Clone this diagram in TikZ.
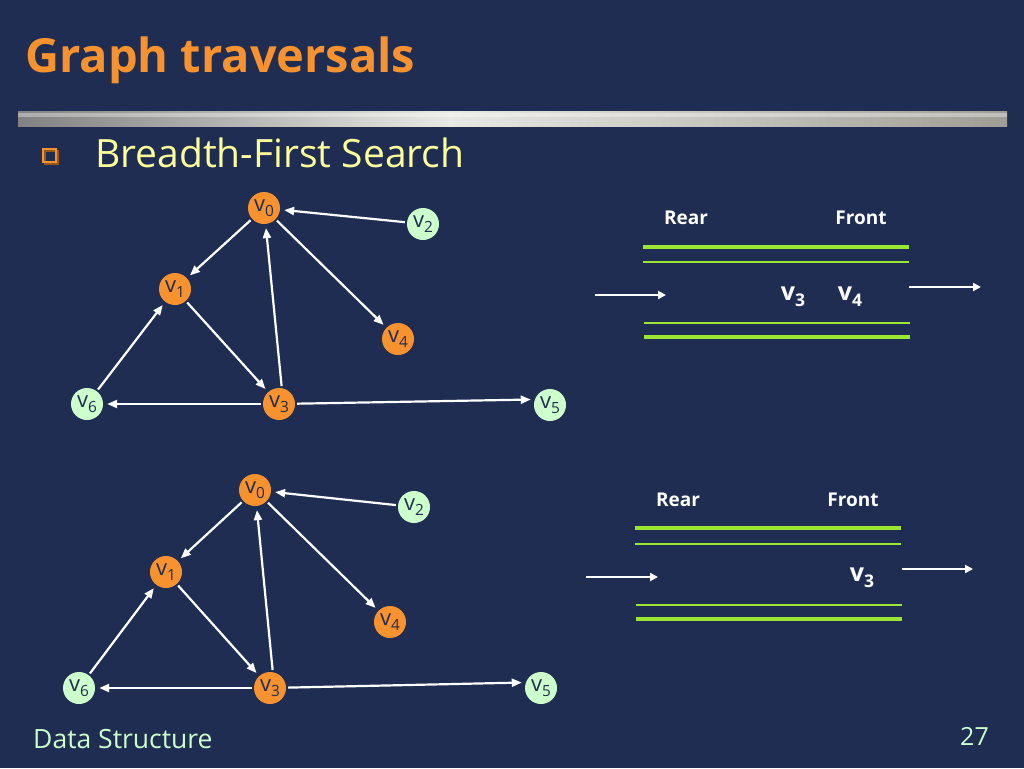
\documentclass[tikz,border=0pt]{standalone}
\usepackage{fontspec}
\usepackage{graphicx}
\setmainfont{Open Sans}
\usetikzlibrary{arrows.meta, positioning, shapes.geometric}

\definecolor{slidebg}{RGB}{31,45,82}
\definecolor{titleorange}{RGB}{247,146,46}
\definecolor{nodegreen}{RGB}{204,255,204}
\definecolor{textyellow}{RGB}{255,255,153}
\definecolor{queuegreen}{RGB}{153,230,51}
\definecolor{bardark}{RGB}{130,130,130}
\definecolor{barlight}{RGB}{232,232,228}
\definecolor{barright}{RGB}{160,157,150}

% vertex label: v with a low subscript
\newcommand{\vlab}[1]{v\raisebox{-0.45ex}{\scalebox{0.7}{#1}}}

\begin{document}
\begin{tikzpicture}[x=1pt, y=-1pt,
        visited/.style={circle, fill=titleorange, minimum size=32pt, inner sep=0pt, text=slidebg, font=\fontsize{22}{22}\selectfont},
        unvisited/.style={visited, fill=nodegreen},
        graphedge/.style={white, line width=2.2pt, -{Triangle[length=10pt, width=8pt]}, shorten >=4pt, shorten <=2pt},
        qarrow/.style={white, line width=2pt, -{Triangle[length=8pt, width=8pt]}},
        qthick/.style={queuegreen, line width=4.5pt},
        qthin/.style={queuegreen, line width=2pt},
        qlabel/.style={white, font=\bfseries\fontsize{19}{19}\selectfont},
        qitem/.style={white, font=\bfseries\fontsize{25}{25}\selectfont}]

        % Slide background
        \fill[slidebg] (0,0) rectangle (1024,768);

        % Title and bar
        \node[anchor=base west, inner sep=0pt, text=titleorange, font=\bfseries\fontsize{47}{47}\selectfont] (title) at (25,72) {Graph traversals};
        \shade[left color=bardark, right color=barlight] (18,111) rectangle (450,126);
        \shade[left color=barlight, right color=barright] (450,111) rectangle (1007,126);
        \fill[white, opacity=0.35] (18,113) rectangle (1007,117);

        % Bullet item
        \draw[titleorange!60!black, line width=2pt] (45,151) rectangle (58,164);
        \draw[titleorange, line width=2pt] (43,149) rectangle (56,162);
        \node[anchor=base west, inner sep=0pt, text=textyellow, font=\fontsize{39}{39}\selectfont] (bfs) at (95,167) {Breadth-First Search};

        % Top graph
        \node[visited] (tv0) at (264,208) {\vlab{0}};
        \node[unvisited] (tv2) at (423,224) {\vlab{2}};
        \node[visited] (tv1) at (175,289) {\vlab{1}};
        \node[visited] (tv4) at (398,339) {\vlab{4}};
        \node[unvisited] (tv6) at (87,404) {\vlab{6}};
        \node[visited] (tv3) at (279,404) {\vlab{3}};
        \node[unvisited] (tv5) at (550,405) {\vlab{5}};

        \draw[graphedge] (tv2) -- (tv0);
        \draw[graphedge] (tv0) -- (tv1);
        \draw[graphedge] (tv0) -- (tv4);
        \draw[graphedge] (tv1) -- (tv3);
        \draw[graphedge] (tv3.80) -- (tv0);
        \draw[graphedge] (tv6) -- (tv1);
        \draw[graphedge] (tv3) -- (tv6);
        \draw[graphedge] (tv3) -- (tv5.160);

        % Top queue
        \node[qlabel] (trear) at (686,218) {Rear};
        \node[qlabel] (tfront) at (861,218) {Front};
        \draw[qthick] (643,247) -- (909,247);
        \draw[qthin] (643,262) -- (909,262);
        \draw[qthin] (644,323) -- (910,323);
        \draw[qthick] (644,337) -- (910,337);
        \node[qitem] (tq3) at (793,297) {\vlab{3}};
        \node[qitem] (tq4) at (850,297) {\vlab{4}};
        \coordinate (tinl) at (595,295);
        \coordinate (tinr) at (666,295);
        \coordinate (toutl) at (909,287);
        \coordinate (toutr) at (981,287);
        \draw[qarrow] (tinl) -- (tinr);
        \draw[qarrow] (toutl) -- (toutr);

        % Bottom graph
        \node[visited] (bv0) at (255,490) {\vlab{0}};
        \node[unvisited] (bv2) at (414,507) {\vlab{2}};
        \node[visited] (bv1) at (166,572) {\vlab{1}};
        \node[visited] (bv4) at (390,622) {\vlab{4}};
        \node[unvisited] (bv6) at (79,688) {\vlab{6}};
        \node[visited] (bv3) at (270,688) {\vlab{3}};
        \node[unvisited] (bv5) at (541,688) {\vlab{5}};

        \draw[graphedge] (bv2) -- (bv0);
        \draw[graphedge] (bv0) -- (bv1);
        \draw[graphedge] (bv0) -- (bv4);
        \draw[graphedge] (bv1) -- (bv3);
        \draw[graphedge] (bv3.80) -- (bv0);
        \draw[graphedge] (bv6) -- (bv1);
        \draw[graphedge] (bv3) -- (bv6);
        \draw[graphedge] (bv3) -- (bv5.160);

        % Bottom queue
        \node[qlabel] (brear) at (678,500) {Rear};
        \node[qlabel] (bfront) at (853,500) {Front};
        \draw[qthick] (635,528) -- (901,528);
        \draw[qthin] (635,544) -- (901,544);
        \draw[qthin] (636,605) -- (902,605);
        \draw[qthick] (636,619) -- (902,619);
        \node[qitem] (bq3) at (862,578) {\vlab{3}};
        \coordinate (binl) at (586,577);
        \coordinate (binr) at (658,577);
        \coordinate (boutl) at (902,569);
        \coordinate (boutr) at (973,569);
        \draw[qarrow] (binl) -- (binr);
        \draw[qarrow] (boutl) -- (boutr);

        % Footer
        \node[anchor=base west, inner sep=0pt, text=nodegreen, font=\fontsize{26.5}{26.5}\selectfont] (footer) at (33,748) {Data Structure};
        \node[anchor=base east, inner sep=0pt, text=nodegreen, font=\fontsize{25}{25}\selectfont] (pagenum) at (989,745) {27};
    \end{tikzpicture}
\end{document}
